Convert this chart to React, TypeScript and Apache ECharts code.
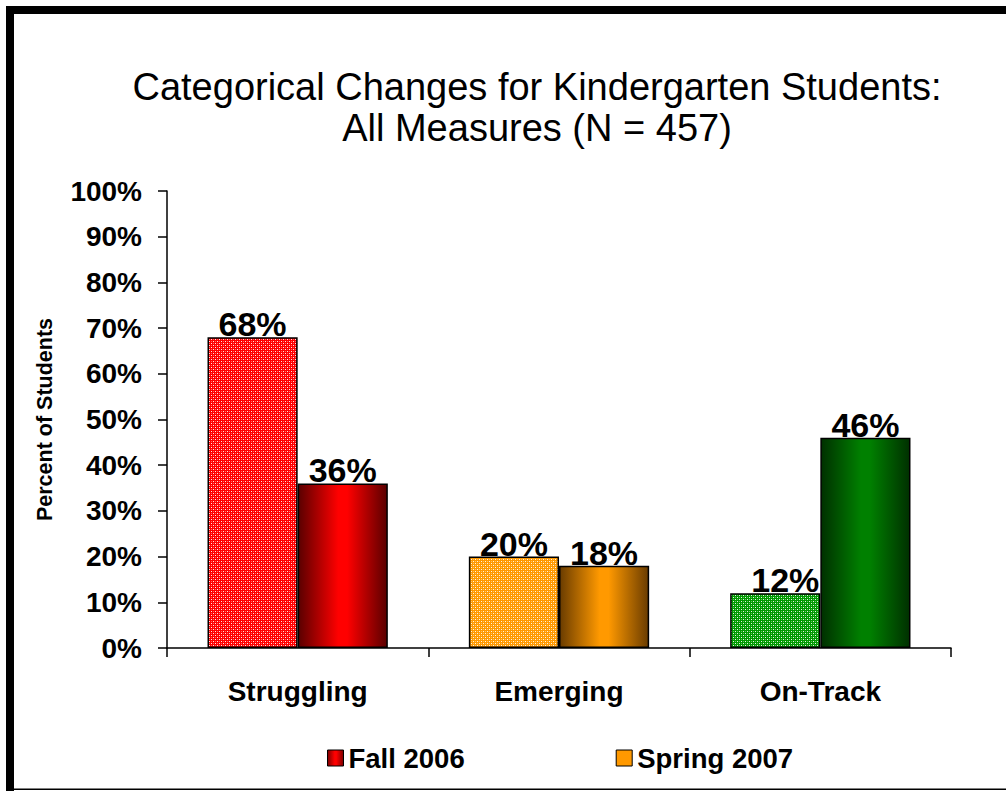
import React, { useEffect, useRef } from "react";
import * as echarts from "echarts";

const categories = ["Struggling", "Emerging", "On-Track"];
const fall2006 = [68, 20, 12];
const spring2007 = [36, 18, 46];
const seriesNames = ["Fall 2006", "Spring 2007"];
const titleLines = ["Categorical Changes for Kindergarten Students:", "All Measures (N = 457)"];
const yAxisName = "Percent of Students";

const baseColors = ["#FF0000", "#FF9900", "#009900"];
const brightColors = ["#FF0000", "#FF9900", "#008000"];
const darkColors = ["#5a0000", "#6a3c00", "#003000"];
const FONT = "'Liberation Sans', Arial, Helvetica, sans-serif";

function makePattern(color: string) {
  const c = document.createElement("canvas");
  c.width = 4;
  c.height = 4;
  const ctx = c.getContext("2d")!;
  ctx.fillStyle = color;
  ctx.fillRect(0, 0, 4, 4);
  ctx.fillStyle = "rgba(255,255,255,0.9)";
  ctx.fillRect(1, 1, 1, 1);
  ctx.fillRect(3, 3, 1, 1);
  ctx.fillStyle = "rgba(255,255,255,0.4)";
  ctx.fillRect(3, 1, 1, 1);
  ctx.fillRect(1, 3, 1, 1);
  return { image: c, repeat: "repeat", imageWidth: 4, imageHeight: 4 } as any;
}

function cylinder(dark: string, bright: string) {
  return new echarts.graphic.LinearGradient(0, 0, 1, 0, [
    { offset: 0, color: dark },
    { offset: 0.45, color: bright },
    { offset: 0.55, color: bright },
    { offset: 1, color: dark },
  ]);
}

export default function App() {
  const ref = useRef<HTMLDivElement>(null);
  useEffect(() => {
    if (!ref.current) return;
    const chart = echarts.init(ref.current, undefined, { renderer: "svg" });
    const labelStyle = {
      show: true,
      position: "top",
      distance: -4,
      formatter: "{c}%",
      fontFamily: FONT,
      fontWeight: "bold",
      fontSize: 34,
      color: "#000",
    };
    const option: any = {
      animation: false,
      backgroundColor: "#fff",
      textStyle: { fontFamily: FONT },
      graphic: [
        { type: "rect", shape: { x: 6, y: 6, width: 8, height: 785 }, style: { fill: "#000" } },
        { type: "rect", shape: { x: 6, y: 6, width: 1000, height: 8 }, style: { fill: "#000" } },
        { type: "rect", shape: { x: 6, y: 788.5, width: 1000, height: 1.5 }, style: { fill: "#000" } },
        {
          type: "text",
          x: 537,
          y: 66,
          style: {
            text: titleLines.join("\n"),
            font: `38px ${FONT}`,
            fill: "#000",
            textAlign: "center",
            textVerticalAlign: "top",
            lineHeight: 41,
          },
        },
      ],
      grid: { left: 167, right: 55, top: 191, bottom: 143 },
      legend: {
        left: 327,
        top: 744,
        padding: 0,
        itemWidth: 16,
        itemHeight: 16,
        itemGap: 151,
        icon: "rect",
        textStyle: { fontFamily: FONT, fontWeight: "bold", fontSize: 27.5, color: "#000" },
        data: [
          {
            name: seriesNames[0],
            itemStyle: { color: cylinder("#7a0000", "#FF0000"), borderColor: "#000", borderWidth: 1 },
          },
          {
            name: seriesNames[1],
            itemStyle: { color: "#FF9900", borderColor: "#000", borderWidth: 1 },
          },
        ],
      },
      xAxis: {
        type: "category",
        data: categories,
        axisLine: { lineStyle: { color: "#000", width: 1.5 } },
        axisTick: { show: true, length: 9, lineStyle: { color: "#000", width: 1.5 } },
        axisLabel: { fontFamily: FONT, fontWeight: "bold", fontSize: 28, color: "#000", margin: 29 },
      },
      yAxis: {
        type: "value",
        min: 0,
        max: 100,
        interval: 10,
        name: yAxisName,
        nameLocation: "middle",
        nameRotate: 90,
        nameGap: 111,
        nameTextStyle: { fontFamily: FONT, fontWeight: "bold", fontSize: 21.5, color: "#000" },
        axisLine: { show: true, lineStyle: { color: "#000", width: 1.5 } },
        axisTick: { show: true, length: 9, lineStyle: { color: "#000", width: 1.5 } },
        splitLine: { show: false },
        axisLabel: {
          formatter: "{value}%",
          fontFamily: FONT,
          fontWeight: "bold",
          fontSize: 28,
          color: "#000",
          margin: 25,
        },
      },
      series: [
        {
          name: seriesNames[0],
          type: "bar",
          barGap: "0%",
          barCategoryGap: "31%",
          data: fall2006.map((v, i) => ({
            value: v,
            itemStyle: { color: makePattern(baseColors[i]), borderColor: "#000", borderWidth: 1.5 },
            label: i === 2 ? { offset: [10, 0] } : undefined,
          })),
          label: labelStyle,
        },
        {
          name: seriesNames[1],
          type: "bar",
          barGap: "0%",
          barCategoryGap: "31%",
          data: spring2007.map((v, i) => ({
            value: v,
            itemStyle: { color: cylinder(darkColors[i], brightColors[i]), borderColor: "#000", borderWidth: 1.5 },
          })),
          label: labelStyle,
        },
      ],
    };
    chart.setOption(option);
    return () => chart.dispose();
  }, []);
  return (
    <div
      ref={ref}
      style={{ position: "absolute", left: 0, top: 0, width: 1006, height: 791, background: "#fff" }}
    />
  );
}
